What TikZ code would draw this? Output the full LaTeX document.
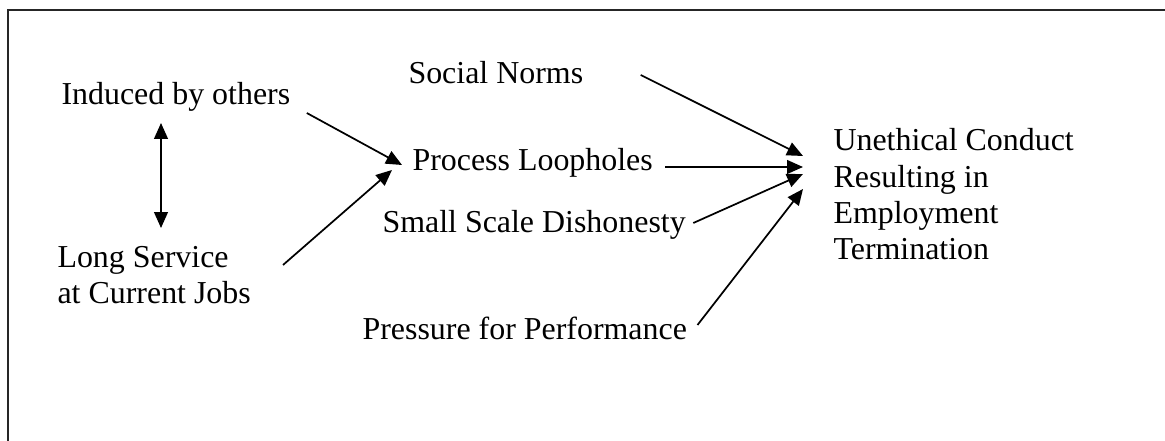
\documentclass[tikz,border=0pt]{standalone}
\usepackage{fontspec}
\setmainfont{Liberation Serif}
\usetikzlibrary{arrows.meta,calc}

\begin{document}
\begin{tikzpicture}[x=0.3759pt,y=-0.3759pt,
    >={Triangle[length=6pt,width=5.2pt]},
    lbl/.style={inner sep=0pt,anchor=base west,align=left,
      font=\fontsize{12}{13.7}\selectfont},
    arr/.style={line width=0.65pt,->}]
    \useasboundingbox (0,0) rectangle (1165,441);
    % frame, cut off at the right and bottom
    \draw[line width=0.8pt,black!85] (8,450) -- (8,10) -- (1175,10);

    \node[lbl] (induced) at (61,105) {Induced by others};
    \node[lbl] (long) at (57,304) {Long Service\\at Current Jobs};
    \node[lbl] (social) at (408,84) {Social Norms};
    \node[lbl] (loophole) at (412,171) {Process Loopholes};
    \node[lbl] (dishonest) at (382,233) {Small Scale Dishonesty};
    \node[lbl] (pressure) at (362,340) {Pressure for Performance};
    \node[lbl] (outcome) at (833,260) {Unethical Conduct\\Resulting in\\Employment\\Termination};

    \draw[arr,<->] ($(induced.base west)+(100,18)$) -- ($(long.base west)+(104,-76)$);
    \draw[arr] ($(induced.base east)+(16,8)$) -- ($(loophole.base west)+(-10,-6)$);
    \draw[arr] ($(long.base west)+(226,-39)$) -- ($(loophole.base west)+(-20,-1)$);

    \foreach \src/\sx/\sy/\ty in {social/57/-9/-104, loophole/12/-4/-93,
        dishonest/7/-10/-86, pressure/10/-15/-71}{
      \draw[arr] ($(\src.base east)+(\sx,\sy)$) -- ($(outcome.base west)+(-30,\ty)$);
    }
\end{tikzpicture}
\end{document}
